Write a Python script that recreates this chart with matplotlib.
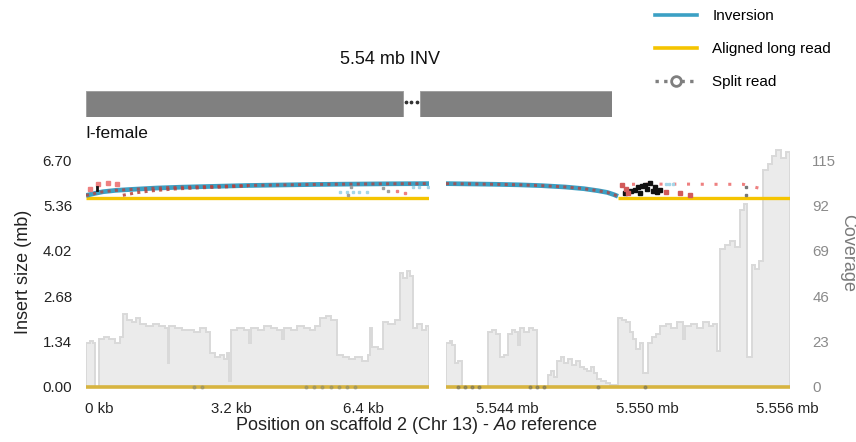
import matplotlib
matplotlib.use('Agg')
import matplotlib.pyplot as plt
from matplotlib.lines import Line2D
import numpy as np

plt.rcParams['font.family'] = ['Liberation Sans', 'DejaVu Sans']
plt.rcParams['mathtext.fontset'] = 'custom'
plt.rcParams['mathtext.it'] = 'Liberation Sans:italic'
plt.rcParams['mathtext.rm'] = 'Liberation Sans'

# ---------------- data ----------------
insert_ticks = [0.00, 1.34, 2.68, 4.02, 5.36, 6.70]
coverage_ticks = [0, 23, 46, 69, 92, 115]
left_ticks = [0, 3.2, 6.4]
left_tick_labels = ['0 kb', '3.2 kb', '6.4 kb']
right_ticks = [5544, 5550, 5556]
right_tick_labels = ['5.544 mb', '5.550 mb', '5.556 mb']
left_range = (-0.31, 7.98)        # kb
right_range = (5541.39, 5556.13)  # kb

# coverage steps (start kb, depth)
left_cov = [(-0.31, 22), (-0.22, 23), (-0.14, 22), (-0.09, 0), (0.00, 24), (0.12, 25),
            (0.25, 24), (0.38, 22), (0.50, 25), (0.58, 37), (0.68, 34), (0.80, 33),
            (0.90, 35), (1.00, 32), (1.15, 31), (1.30, 32), (1.45, 31), (1.60, 30),
            (1.66, 12), (1.70, 31), (1.85, 30), (2.00, 29), (2.15, 29), (2.30, 28),
            (2.45, 30), (2.60, 28), (2.69, 17), (2.80, 15), (2.92, 16), (3.02, 14),
            (3.10, 17), (3.15, 3), (3.19, 29), (3.35, 30), (3.50, 29), (3.63, 22),
            (3.67, 30), (3.85, 29), (4.00, 31), (4.15, 30), (4.30, 29), (4.43, 24),
            (4.47, 30), (4.65, 29), (4.80, 31), (4.95, 30), (5.10, 29), (5.22, 31),
            (5.34, 35), (5.48, 36), (5.62, 34), (5.75, 16), (5.90, 15), (6.05, 14),
            (6.20, 15), (6.35, 13), (6.50, 16), (6.55, 30), (6.61, 20), (6.75, 19),
            (6.86, 33), (7.00, 32), (7.15, 34), (7.28, 58), (7.36, 55), (7.44, 59),
            (7.52, 56), (7.59, 30), (7.70, 32), (7.80, 29), (7.90, 31)]
right_cov = [(5541.39, 22), (5541.55, 23), (5541.65, 21), (5541.77, 12), (5541.92, 13),
             (5542.07, 0), (5543.19, 28), (5543.35, 29), (5543.52, 27), (5543.70, 15),
             (5543.87, 16), (5544.04, 27), (5544.20, 29), (5544.35, 28), (5544.48, 21),
             (5544.55, 30), (5544.75, 28), (5544.95, 30), (5545.12, 29), (5545.29, 0),
             (5545.76, 6), (5545.90, 8), (5546.02, 5), (5546.14, 13), (5546.30, 15),
             (5546.45, 12), (5546.62, 14), (5546.80, 11), (5546.97, 13), (5547.13, 10),
             (5547.30, 9), (5547.45, 8), (5547.60, 10), (5547.75, 7), (5547.86, 4),
             (5548.05, 3), (5548.25, 2), (5548.41, 1), (5548.76, 35), (5548.95, 34),
             (5549.12, 33), (5549.27, 28), (5549.42, 24), (5549.55, 19), (5549.70, 22),
             (5549.83, 7), (5550.04, 22), (5550.22, 25), (5550.40, 27), (5550.56, 31),
             (5550.80, 32), (5551.05, 30), (5551.30, 33), (5551.55, 24), (5551.65, 31),
             (5551.90, 32), (5552.15, 30), (5552.40, 33), (5552.65, 31), (5552.85, 32),
             (5553.00, 18), (5553.13, 70), (5553.35, 72), (5553.55, 74), (5553.78, 71),
             (5553.99, 90), (5554.15, 93), (5554.29, 15), (5554.50, 62), (5554.65, 60),
             (5554.82, 64), (5554.97, 110), (5555.17, 113), (5555.36, 117), (5555.55, 120),
             (5555.75, 116), (5555.95, 119)]

# inversion arc (kb, insert size mb)
left_inv_x = [-0.31, -0.10, 0.10, 0.40, 0.80, 1.40, 2.00, 2.80, 3.60, 4.40, 5.20, 6.00, 7.00, 7.98]
left_inv_y = [5.66, 5.72, 5.77, 5.81, 5.84, 5.88, 5.905, 5.93, 5.955, 5.97, 5.985, 5.995, 6.005, 6.01]
right_inv_x = [5541.39, 5542.5, 5543.5, 5544.5, 5545.5, 5546.5, 5547.3, 5547.9, 5548.3, 5548.6, 5548.76]
right_inv_y = [6.01, 6.0, 5.99, 5.975, 5.95, 5.91, 5.86, 5.80, 5.75, 5.68, 5.635]

# aligned long read (mb)
long_read_size = 5.585
left_long_read = (-0.31, 7.98)
right_long_read = (5548.76, 5556.13)

# split reads (kb, mb)
left_split2_x = [0.58, 0.90, 1.30, 1.80, 2.40, 3.00, 3.60]
left_split2_y = [5.665, 5.74, 5.80, 5.85, 5.885, 5.91, 5.945]
left_pink_x = [-0.21, -0.02, 0.22, 0.44]
left_pink_y = [5.84, 6.00, 6.02, 6.00]
left_black_x = [-0.04, -0.04]
left_black_y = [5.83, 5.90]
left_lblue_x = [5.83, 6.00, 6.15, 6.30, 6.48, 7.60, 7.75, 7.95]
left_lblue_y = [5.76, 5.76, 5.76, 5.76, 5.76, 5.91, 5.91, 5.91]
left_gray_x = [6.02, 6.10, 6.86, 7.00]
left_gray_y = [5.68, 5.90, 5.88, 5.80]
left_red_x = [7.20, 7.40]
left_red_y = [5.78, 5.73]

right_pink_x = [5549.36, 5550.2, 5551.0, 5551.8, 5552.6, 5553.4, 5554.12, 5554.84, 5555.19]
right_pink_y = [5.99, 5.995, 5.995, 5.995, 5.99, 5.99, 5.99, 5.87, 5.75]
right_black_x = [5549.06, 5549.30, 5549.49, 5549.60, 5549.70, 5549.80, 5549.92, 5550.02,
                 5550.13, 5550.25, 5550.34, 5550.45, 5550.56]
right_black_y = [5.72, 5.80, 5.81, 5.90, 5.72, 5.93, 5.96, 5.85, 6.02, 5.80, 5.90, 5.75, 5.81]
right_red_x = [5548.95, 5549.10, 5549.2, 5550.8, 5551.4, 5551.85]
right_red_y = [5.96, 5.85, 5.72, 5.75, 5.72, 5.66]
right_lblue_x = [5550.80, 5550.95, 5551.10]
right_lblue_y = [5.99, 5.99, 5.99]
right_gray_x = [5554.25, 5554.25]
right_gray_y = [5.90, 5.66]

zero_gray_left = [2.3, 2.5, 5.0, 5.2, 5.4, 5.6, 5.8, 6.0, 6.2]
zero_gray_right = [5541.9, 5542.2, 5542.5, 5542.8, 5545.0, 5545.3, 5545.6, 5547.9, 5549.9]

# ---------------- style ----------------
W, H = 856, 442
fig = plt.figure(figsize=(W / 100, H / 100), dpi=100)

def px_axes(x0, y0, x1, y1):
    return fig.add_axes([x0 / W, 1 - y1 / H, (x1 - x0) / W, (y1 - y0) / H])

COV_FILL = '#ebebeb'
COV_LINE = '#d9d9d9'
BLUE = '#3ba0c4'
YELLOW = '#f5c400'
ZERO_YEL = '#d7b440'
RED = '#b8403a'
PINK = '#ee8080'
LBLUE = '#a5d6e8'
GRAY = '#a0a0a0'
scale = insert_ticks[-1] / coverage_ticks[-1]

ymin = -0.05 * insert_ticks[-1]
ymax = insert_ticks[-1] * 1.05

axL = px_axes(86, 149, 429, 398)
axR = px_axes(446, 149, 790, 398)

for ax, cov, rng in [(axL, left_cov, left_range), (axR, right_cov, right_range)]:
    starts = [p for p, v in cov]
    vals = np.array([v for p, v in cov]) * scale
    edges = starts + [rng[1]]
    ax.stairs(vals, edges, baseline=0, fill=True, color=COV_FILL, zorder=1)
    ax.stairs(vals, edges, baseline=0, fill=False, color=COV_LINE, lw=1.4, zorder=1.5)
    ax.plot(rng, [0, 0], color=ZERO_YEL, lw=2.6, zorder=2, solid_capstyle='butt')
    ax.set_xlim(rng)
    ax.set_ylim(ymin, ymax)
    for s in ax.spines.values():
        s.set_visible(False)
    ax.tick_params(length=0, labelsize=10.8, colors='#222222')
    ax.set_facecolor('none')

# zero-level split read dots
axL.plot(zero_gray_left, [0] * len(zero_gray_left), ls='none', marker='o', ms=2.0,
         color='#8a8a6a', alpha=0.5, zorder=2.5)
axR.plot(zero_gray_right, [0] * len(zero_gray_right), ls='none', marker='o', ms=2.0,
         color='#6a6a5a', alpha=0.5, zorder=2.5)

# long reads
axL.plot(left_long_read, [long_read_size] * 2, color=YELLOW, lw=2.4, zorder=3,
         solid_capstyle='butt')
axR.plot(right_long_read, [long_read_size] * 2, color=YELLOW, lw=2.4, zorder=3,
         solid_capstyle='butt')

# inversion arcs + split read overlays
dot = (0, (1.0, 1.4))
axL.plot(left_inv_x, left_inv_y, color=BLUE, lw=3.4, zorder=4, solid_capstyle='butt')
axL.plot(left_inv_x, left_inv_y, color=RED, lw=2.2, ls=dot, alpha=0.75, zorder=5)
axL.plot(left_split2_x, left_split2_y, color=RED, lw=2.2, ls=dot, alpha=0.85, zorder=5)
axL.plot(left_pink_x, left_pink_y, ls='none', marker='s', ms=2.2, color=PINK, zorder=6)
axL.plot(left_black_x, left_black_y, color='#111111', lw=2, zorder=6)
axL.plot(left_lblue_x, left_lblue_y, ls='none', marker='s', ms=2.0, color=LBLUE, zorder=6)
axL.plot(left_gray_x, left_gray_y, ls='none', marker='s', ms=2.0, color=GRAY, zorder=6)
axL.plot(left_red_x, left_red_y, ls='none', marker='s', ms=2.0, color=PINK, zorder=6)

axR.plot(right_inv_x, right_inv_y, color=BLUE, lw=3.4, zorder=4, solid_capstyle='butt')
axR.plot(right_inv_x, right_inv_y, color=RED, lw=2.2, ls=dot, alpha=0.75, zorder=5)
axR.plot(right_pink_x, right_pink_y, color=PINK, lw=2.2, ls=(0, (1.0, 3.5)), zorder=5)
axR.plot(right_black_x, right_black_y, ls='none', marker='s', ms=2.5, color='#111111', zorder=6)
axR.plot(right_red_x, right_red_y, ls='none', marker='s', ms=2.2, color='#d25a5a', zorder=6)
axR.plot(right_lblue_x, right_lblue_y, ls='none', marker='s', ms=2.0, color=LBLUE, zorder=6)
axR.plot(right_gray_x, right_gray_y, ls='none', marker='s', ms=2.0, color='#777777', zorder=6)

# axes ticks
axL.set_yticks(insert_ticks)
axL.set_yticklabels(['%.2f' % t for t in insert_ticks])
axL.tick_params(axis='y', pad=10)
axL.set_xticks(left_ticks)
axL.set_xticklabels(left_tick_labels)
axL.tick_params(axis='x', pad=3)

axR.set_yticks([])
axR.set_xticks(right_ticks)
axR.set_xticklabels(right_tick_labels)
axR.tick_params(axis='x', pad=3)
sec = axR.secondary_yaxis('right', functions=(lambda y: y / scale, lambda c: c * scale))
sec.set_yticks(coverage_ticks)
sec.set_yticklabels([str(t) for t in coverage_ticks])
sec.tick_params(length=0, pad=16, labelsize=10.8, colors='#8a8a8a')
for s in sec.spines.values():
    s.set_visible(False)

# axis titles
fig.text(24 / W, 1 - 272 / H, 'Insert size (mb)', rotation=90, ha='center', va='center',
         fontsize=13, color='#222222')
fig.text(848 / W, 1 - 253 / H, 'Coverage', rotation=-90, ha='center', va='center',
         fontsize=13, color='#7a7a7a')
fig.text(416 / W, 1 - 425 / H, r'Position on scaffold 2 (Chr 13) - $\mathit{Ao}$ reference',
         ha='center', va='center', fontsize=13, color='#222222')

# schematic of the inversion
inv_segments = [(0.0, 0.602), (0.634, 1.0)]
axS = px_axes(86, 90.7, 612.3, 116.7)
axS.set_xlim(0, 1)
axS.set_ylim(0, 1)
axS.axis('off')
axS.broken_barh([(a, b - a) for a, b in inv_segments], (0, 1), facecolor='#808080',
                edgecolor='#9a9a9a', lw=0.6)
gap = np.linspace(inv_segments[0][1], inv_segments[1][0], 7)[[1, 3, 5]]
axS.plot(gap, [0.56] * 3, ls='none', marker='o', ms=1.7, color='#333333')

fig.text(390 / W, 1 - 59 / H, '5.54 mb INV', ha='center', va='center', fontsize=13,
         color='#111111')
fig.text(85 / W, 1 - 133 / H, 'I-female', ha='left', va='center', fontsize=12.5,
         color='#111111')

# legend
handles = [Line2D([], [], color=BLUE, lw=2.6),
           Line2D([], [], color=YELLOW, lw=2.6),
           Line2D([], [], color='#7f7f7f', lw=2.4, ls=(0, (1, 1.6)), marker='o', ms=7,
                  mfc='white', mec='#7f7f7f', mew=2)]
labels = ['Inversion', 'Aligned long read', 'Split read']
fig.legend(handles, labels, loc='upper left', bbox_to_anchor=(655 / W, 1 - 9 / H),
           frameon=False, fontsize=11, handlelength=2.75, handletextpad=1.0,
           labelspacing=1.25, borderpad=0, borderaxespad=0)

fig.savefig('out.png', dpi=100)
